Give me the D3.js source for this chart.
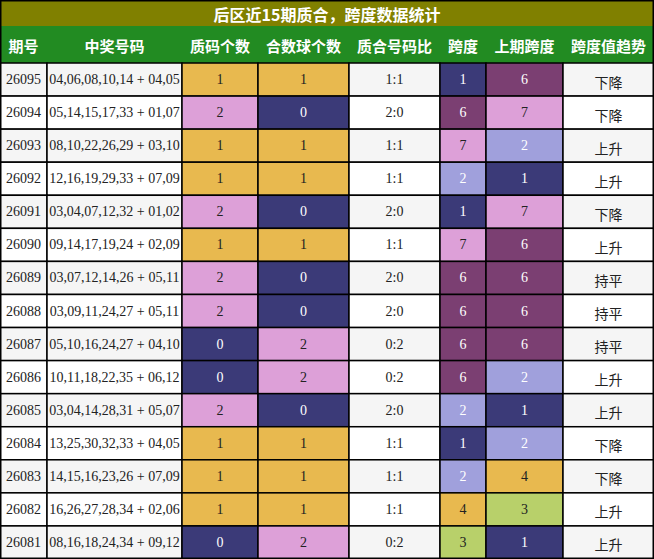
<!DOCTYPE html>
<html><head><meta charset="utf-8">
<script src="https://cdn.jsdelivr.net/npm/d3@7"></script>
<style>body{margin:0;background:#fff}</style>
</head><body>
<svg id="chart" width="654" height="559"></svg>
<script>
const title = "后区近15期质合，跨度数据统计";
const headers = ["期号", "中奖号码", "质码个数", "合数球个数", "质合号码比", "跨度", "上期跨度", "跨度值趋势"];
const issues = ["26095","26094","26093","26092","26091","26090","26089","26088","26087","26086","26085","26084","26083","26082","26081"];
const numbers = ["04,06,08,10,14 + 04,05","05,14,15,17,33 + 01,07","08,10,22,26,29 + 03,10","12,16,19,29,33 + 07,09","03,04,07,12,32 + 01,02","09,14,17,19,24 + 02,09","03,07,12,14,26 + 05,11","03,09,11,24,27 + 05,11","05,10,16,24,27 + 04,10","10,11,18,22,35 + 06,12","03,04,14,28,31 + 05,07","13,25,30,32,33 + 04,05","14,15,16,23,26 + 07,09","16,26,27,28,34 + 02,06","08,16,18,24,34 + 09,12"];
const primeCount = [1,2,1,1,2,1,2,2,0,0,2,1,1,1,0];
const compositeCount = [1,0,1,1,0,1,0,0,2,2,0,1,1,1,2];
const span = [1,6,7,2,1,7,6,6,6,6,2,1,2,4,3];
const prevSpan = [6,7,2,1,7,6,6,6,6,2,1,2,4,3,1];
const trend = ["下降","下降","上升","上升","下降","上升","持平","持平","持平","上升","上升","下降","下降","上升","上升"];

const colEdges = [0,47,182,258,349,440,486,563,654];
const svg = d3.select("#chart");
const W = 654;

const countColor = d3.scaleOrdinal().domain([0,1,2]).range(["#3b3a78","#e8b94f","#dda0d8"]);
const spanColor = d3.scaleOrdinal().domain([1,2,3,4,6,7]).range(["#3b3a78","#a0a0dc","#b8d06a","#e8b94f","#7b3f72","#dda0d8"]);
const darkFills = ["#3b3a78","#7b3f72","#a0a0dc"];

const y = d3.scaleBand().domain(d3.range(issues.length)).range([63, 559]);

// title
svg.append("rect").attr("x",0).attr("y",0).attr("width",W).attr("height",26).attr("fill","#808000");
svg.append("text").attr("x",W/2).attr("y",14).attr("text-anchor","middle").attr("dominant-baseline","central")
  .style("font-family","'Noto Sans CJK SC'").style("font-weight","bold").style("font-size","16px").attr("fill","#fff").text(title);

// header
svg.append("rect").attr("x",0).attr("y",26).attr("width",W).attr("height",37).attr("fill","#228b22");
headers.forEach((h,i) => {
  svg.append("text").attr("x",(colEdges[i]+colEdges[i+1])/2).attr("y",45).attr("text-anchor","middle").attr("dominant-baseline","central")
    .style("font-family","'Noto Sans CJK SC'").style("font-weight","bold").style("font-size","15px").attr("fill","#fff").text(h);
});

// rows
issues.forEach((iss,r) => {
  const base = r % 2 === 0 ? "#f5f5f5" : "#ffffff";
  const cells = [
    [iss, base], [numbers[r], base],
    [primeCount[r], countColor(primeCount[r])],
    [compositeCount[r], countColor(compositeCount[r])],
    [primeCount[r] + ":" + compositeCount[r], base],
    [span[r], spanColor(span[r])],
    [prevSpan[r], spanColor(prevSpan[r])],
    [trend[r], base]
  ];
  cells.forEach(([val,fill],c) => {
    const x0 = colEdges[c], x1 = colEdges[c+1];
    svg.append("rect").attr("x",x0).attr("y",y(r)).attr("width",x1-x0).attr("height",y.bandwidth())
      .attr("fill",fill).attr("stroke","#000").attr("stroke-width",1.5);
    const cjk = c === 7;
    svg.append("text").attr("x",(x0+x1)/2).attr("y",y(r)+y.bandwidth()/2 + (cjk?2:0)).attr("text-anchor","middle").attr("dominant-baseline","central")
      .style("font-family", cjk ? "'Noto Sans CJK SC'" : "'Liberation Serif'")
      .style("font-size", cjk ? "14px" : "14px")
      .attr("fill", darkFills.includes(fill) ? "#fff" : "#222").text(val);
  });
});
svg.append("rect").attr("x",0.75).attr("y",0.75).attr("width",W-1.5).attr("height",557.5).attr("fill","none").attr("stroke","#000").attr("stroke-width",1.5);
</script>
</body></html>
